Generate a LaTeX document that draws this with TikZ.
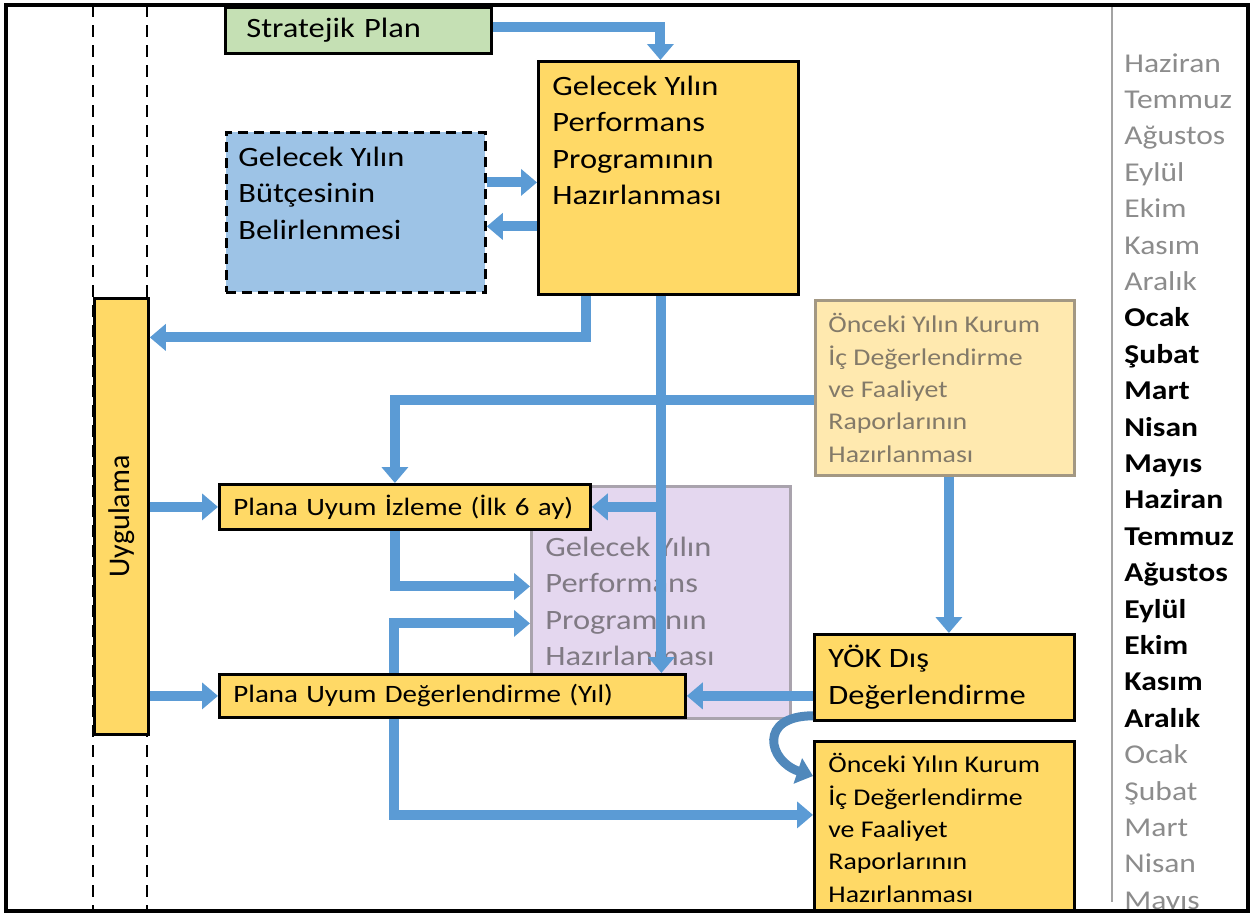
\documentclass[tikz,border=0pt]{standalone}
\usepackage{fontspec}
\setmainfont{Carlito}[FakeStretch=1.16]
\newfontfamily\plainfont{Carlito}
\usetikzlibrary{arrows.meta}

\definecolor{boxGold}{HTML}{FFD966}
\definecolor{planGreen}{HTML}{C5E0B4}
\definecolor{budgetBlue}{HTML}{9DC3E6}
\definecolor{paleGold}{HTML}{FFE9AF}
\definecolor{paleLine}{HTML}{A39883}
\definecolor{paleText}{HTML}{837A69}
\definecolor{lilac}{HTML}{E4D7EF}
\definecolor{lilacLine}{HTML}{A9A3AD}
\definecolor{lilacText}{HTML}{807A84}
\definecolor{arrowBlue}{HTML}{5B9BD5}
\definecolor{monthGray}{HTML}{8C8C8C}

\tikzset{
	box/.style={draw=black, line width=1.4pt, anchor=north west, inner sep=0pt},
	goldbox/.style={box, fill=boxGold},
	txt/.style={anchor=north west, align=left, inner sep=0pt, font=\fontsize{14}{18.2}\selectfont},
	smalltxt/.style={txt, font=\fontsize{12}{16.2}\selectfont},
	linebox/.style={goldbox, align=left, inner xsep=7pt, font=\fontsize{12.5}{15}\selectfont},
	blk/.style={draw=arrowBlue, line width=5pt, line join=miter, -{Triangle[width=13pt,length=8pt]}},
	lane/.style={dash pattern=on 6pt off 4pt, line width=1.4pt},
	month/.style={anchor=base west, inner sep=0pt, font=\fontsize{13.6}{16}\selectfont},
}

\begin{document}
\begin{tikzpicture}[x=0.5pt,y=-0.5pt]
	\useasboundingbox (0,0) rectangle (1253,916);
	\begin{scope}
		\clip (6,5) rectangle (1248,911);
		
		%lanes.....................
		\draw [lane] (93,5) to (93,911);
		\draw [lane] (147,5) to (147,911);
		
		%month column......................
		\draw [monthGray!80, line width=1pt] (1112,5) to (1112,902);
		\foreach \m [count=\i from 0] in {Haziran,Temmuz,Ağustos,Eylül,Ekim,Kasım,Aralık}
			\node [month, text=monthGray] (m\i) at (1124,{72+36.4*\i}) {\m};
		\foreach \m [count=\i from 7] in {Ocak,Şubat,Mart,Nisan,Mayıs,Haziran,Temmuz,Ağustos,Eylül,Ekim,Kasım,Aralık}
			\node [month, font=\fontsize{13.6}{16}\selectfont\bfseries] (m\i) at (1124,{72+36.4*\i}) {\m};
		\foreach \m [count=\i from 19] in {Ocak,Şubat,Mart,Nisan,Mayıs}
			\node [month, text=monthGray] (m\i) at (1124,{72+36.4*\i}) {\m};
		
		% faded boxes...................
		\node [box, fill=lilac, draw=lilacLine, minimum width=129.5pt, minimum height=116pt] (purp) at (530,485) {};
		\node [txt, text=lilacText] (purpT) at (545,536.5) {Gelecek Yılın\\Performans\\Programının\\Hazırlanması};
		\node [box, fill=paleGold, draw=paleLine, minimum width=129.5pt, minimum height=87.5pt] (prev1) at (814,299) {};
		\node [smalltxt, text=paleText] (prev1T) at (828,313) {Önceki Yılın Kurum\\İç Değerlendirme\\ve Faaliyet\\Raporlarının\\Hazırlanması};
		
		% boxes....................
		\node [goldbox, minimum width=27pt, minimum height=218pt] (uyg) at (93,297) {};
		\node [rotate=90, inner sep=0pt, font=\plainfont\fontsize{15}{18}\selectfont] (uygT) at (uyg.center) {Uygulama};
		
		\node [box, fill=planGreen, minimum width=133pt, minimum height=23pt, align=left, text width=112pt, inner xsep=10.5pt, font=\fontsize{14}{17}\selectfont] (strat) at (224,6) {Stratejik Plan};
		
		\node [goldbox, minimum width=130pt, minimum height=116.5pt] (perf) at (537,60) {};
		\node [txt] (perfT) at (552,75.5) {Gelecek Yılın\\Performans\\Programının\\Hazırlanması};
		
		\node [box, dashed, dash pattern=on 5pt off 3pt, fill=budgetBlue, minimum width=129.5pt, minimum height=80pt] (butce) at (225,131) {};
		\node [txt] (butceT) at (238,146.5) {Gelecek Yılın\\Bütçesinin\\Belirlenmesi};
		
		\node [linebox, minimum width=185.5pt, minimum height=22.5pt, text width=171.5pt] (izl) at (218,483) {Plana Uyum İzleme (İlk 6 ay)};
		\node [linebox, minimum width=233pt, minimum height=21.5pt, text width=219pt] (deg) at (218,673) {Plana Uyum Değerlendirme (Yıl)};
		
		\node [goldbox, minimum width=130pt, minimum height=43pt] (yok) at (813,633) {};
		\node [txt] (yokT) at (828,645) {YÖK Dış\\Değerlendirme};
		
		\node [goldbox, minimum width=130pt, minimum height=87.5pt] (prev2) at (813,740) {};
		\node [smalltxt] (prev2T) at (828,753) {Önceki Yılın Kurum\\İç Değerlendirme\\ve Faaliyet\\Raporlarının\\Hazırlanması};
		
		% arrows......................
		\draw [blk] ([yshift=1.5pt]strat.east) -| ([xshift=-4pt]perf.north);
		\draw [blk] ([yshift=15pt]butce.east) to ([yshift=15pt]butce.east -| perf.west);
		\draw [blk] ([yshift=-7pt]butce.east -| perf.west) to ([yshift=-7pt]butce.east);
		\draw [blk] ([xshift=-41pt]perf.south) |- ([yshift=89.5pt]uyg.east);
		\draw [blk] ([xshift=-3.5pt]perf.south) to ([xshift=-3.5pt]perf.south |- deg.north);
		\draw [blk] ([xshift=-3.5pt]perf.south |- izl.east) to (izl.east);
		\draw [blk] ([yshift=-6pt]prev1.west) -| ([xshift=-5pt]izl.north);
		\draw [blk] ([xshift=2pt]prev1.south) to ([xshift=2pt]prev1.south |- yok.north);
		\draw [blk] (yok.west |- deg.east) to (deg.east);
		\draw [blk, draw=arrowBlue!88!black, line width=4.5pt] ([yshift=3pt]yok.south west) .. controls +(-55,0) and +(-45,-15) .. ([yshift=-18pt]prev2.north west);
		\draw [blk] ([xshift=-5pt]izl.south) |- ([yshift=8pt]purp.west);
		\draw [blk] ([xshift=-29.25pt]deg.north) |- ([yshift=-10.5pt]purp.west);
		\draw [blk] ([xshift=-29.25pt]deg.south) |- ([yshift=7pt]prev2.west);
		\draw [blk] (uyg.east |- izl.west) to (izl.west);
		\draw [blk] (uyg.east |- deg.west) to (deg.west);
	\end{scope}
	
	% frame.....................
	\draw [line width=2pt] (6,5) rectangle (1248,911);
	
\end{tikzpicture}
\end{document}
